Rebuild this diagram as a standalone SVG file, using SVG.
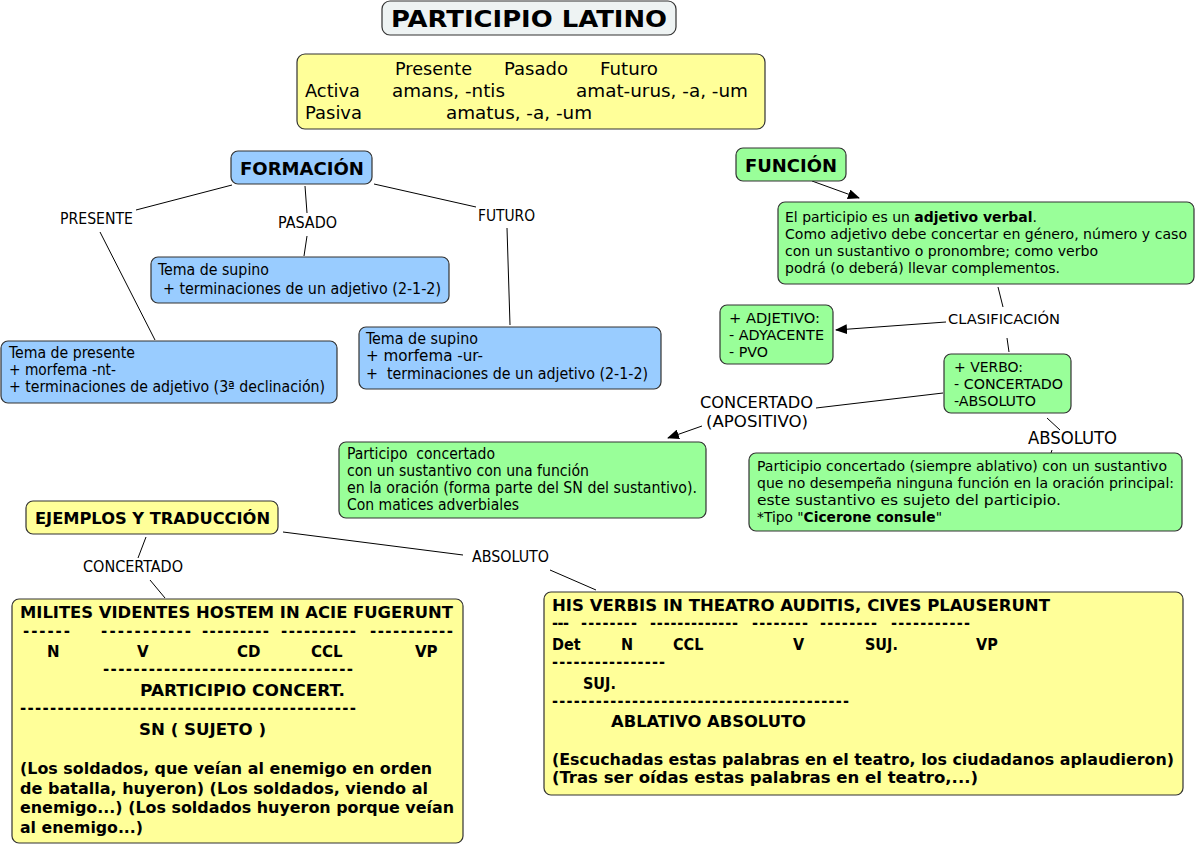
<svg xmlns="http://www.w3.org/2000/svg" width="1197" height="846" viewBox="0 0 1197 846">
<defs>
<marker id="arr" viewBox="0 0 12 10" refX="11" refY="5" markerWidth="12" markerHeight="10" markerUnits="userSpaceOnUse" orient="auto">
<path d="M0,0 L12,5 L0,10 Z" fill="#000"/>
</marker>
<style>
.box{stroke:#333;stroke-width:1.2}
.blue{fill:#99ccff}
.green{fill:#99ff99}
.yellow{fill:#ffff99}
.title{fill:#eef3f3}
text{white-space:pre}
.v{font-family:"DejaVu Sans",Verdana,sans-serif;fill:#000}
.t{font-family:"DejaVu Sans Condensed","DejaVu Sans",sans-serif;font-stretch:condensed;fill:#000}
.b{font-weight:bold}
.ln{stroke:#000;stroke-width:1;fill:none}
</style>
</defs>
<rect width="1197" height="846" fill="#fff"/>

<g id="connectors">
<line class="ln" x1="232" y1="185" x2="136" y2="210"/>
<line class="ln" x1="100" y1="232" x2="155" y2="340"/>
<line class="ln" x1="305" y1="186" x2="307" y2="213"/>
<line class="ln" x1="307" y1="236" x2="304" y2="256"/>
<line class="ln" x1="374" y1="184" x2="476" y2="207"/>
<line class="ln" x1="507" y1="228" x2="510" y2="325"/>
<line class="ln" x1="812" y1="181" x2="859" y2="198" marker-end="url(#arr)"/>
<line class="ln" x1="998" y1="287" x2="1003" y2="307"/>
<line class="ln" x1="946" y1="322" x2="836" y2="330" marker-end="url(#arr)"/>
<line class="ln" x1="1007" y1="338" x2="1009" y2="352"/>
<line class="ln" x1="943" y1="393" x2="816" y2="408"/>
<line class="ln" x1="702" y1="426" x2="668" y2="438" marker-end="url(#arr)"/>
<line class="ln" x1="1047" y1="418" x2="1060" y2="430"/>
<line class="ln" x1="1052" y1="450" x2="1051" y2="453"/>
<line class="ln" x1="146" y1="537" x2="138" y2="558"/>
<line class="ln" x1="150" y1="580" x2="165" y2="598"/>
<line class="ln" x1="283" y1="532" x2="463" y2="555"/>
<line class="ln" x1="550" y1="570" x2="596" y2="590"/>
<text class="t" x="60" y="224" font-size="15" textLength="73" lengthAdjust="spacingAndGlyphs">PRESENTE</text>
<text class="t" x="278" y="228" font-size="15" textLength="59" lengthAdjust="spacingAndGlyphs">PASADO</text>
<text class="t" x="478" y="221" font-size="15" textLength="57" lengthAdjust="spacingAndGlyphs">FUTURO</text>
<text class="v" x="948" y="324" font-size="13.5" textLength="112" lengthAdjust="spacingAndGlyphs">CLASIFICACIÓN</text>
<text class="v" x="700" y="408" font-size="15" textLength="113" lengthAdjust="spacingAndGlyphs">CONCERTADO</text>
<text class="v" x="706" y="427" font-size="15" textLength="102" lengthAdjust="spacingAndGlyphs">(APOSITIVO)</text>
<text class="t" x="1028" y="444" font-size="17" textLength="89" lengthAdjust="spacingAndGlyphs">ABSOLUTO</text>
<text class="t" x="83" y="572" font-size="15" textLength="100" lengthAdjust="spacingAndGlyphs">CONCERTADO</text>
<text class="t" x="472" y="562" font-size="15" textLength="77" lengthAdjust="spacingAndGlyphs">ABSOLUTO</text>
</g>

<g id="n-title">
<rect class="box title" x="382" y="1" width="294" height="34" rx="8"/>
<text class="v b" x="391" y="27" font-size="23" textLength="276" lengthAdjust="spacingAndGlyphs">PARTICIPIO LATINO</text>
</g>

<g id="n-tabla">
<rect class="box yellow" x="297" y="54" width="468" height="75" rx="8"/>
<g class="v" font-size="17">
<text x="395" y="75" textLength="77" lengthAdjust="spacingAndGlyphs">Presente</text>
<text x="504" y="75" textLength="64" lengthAdjust="spacingAndGlyphs">Pasado</text>
<text x="600" y="75" textLength="58" lengthAdjust="spacingAndGlyphs">Futuro</text>
<text x="305" y="97" textLength="55" lengthAdjust="spacingAndGlyphs">Activa</text>
<text x="392" y="97" textLength="113" lengthAdjust="spacingAndGlyphs">amans, -ntis</text>
<text x="576" y="97" textLength="172" lengthAdjust="spacingAndGlyphs">amat-urus, -a, -um</text>
<text x="305" y="119" textLength="57" lengthAdjust="spacingAndGlyphs">Pasiva</text>
<text x="446" y="119" textLength="146" lengthAdjust="spacingAndGlyphs">amatus, -a, -um</text>
</g>
</g>

<g id="n-formacion">
<rect class="box blue" x="231" y="151" width="141" height="33" rx="7"/>
<text class="v b" x="240" y="175" font-size="17" textLength="124" lengthAdjust="spacingAndGlyphs">FORMACIÓN</text>
</g>

<g id="n-pasado">
<rect class="box blue" x="151" y="257" width="298" height="46" rx="7"/>
<text class="t" x="158" y="275" font-size="15" textLength="111" lengthAdjust="spacingAndGlyphs">Tema de supino</text>
<text class="t" x="163" y="294" font-size="15" textLength="278" lengthAdjust="spacingAndGlyphs">+ terminaciones de un adjetivo (2-1-2)</text>
</g>

<g id="n-presente">
<rect class="box blue" x="1" y="341" width="336" height="62" rx="7"/>
<text class="t" x="9" y="358" font-size="15" textLength="126" lengthAdjust="spacingAndGlyphs">Tema de presente</text>
<text class="t" x="9" y="375" font-size="15" textLength="107" lengthAdjust="spacingAndGlyphs">+ morfema -nt-</text>
<text class="t" x="9" y="392" font-size="15" textLength="316" lengthAdjust="spacingAndGlyphs">+ terminaciones de adjetivo (3ª declinación)</text>
</g>

<g id="n-futuro">
<rect class="box blue" x="359" y="327" width="302" height="62" rx="7"/>
<text class="t" x="366" y="344" font-size="15" textLength="112" lengthAdjust="spacingAndGlyphs">Tema de supino</text>
<text class="t" x="366" y="361" font-size="15" textLength="117" lengthAdjust="spacingAndGlyphs">+ morfema -ur-</text>
<text class="t" x="366" y="379" font-size="15" textLength="282" lengthAdjust="spacingAndGlyphs">+  terminaciones de un adjetivo (2-1-2)</text>
</g>

<g id="n-funcion">
<rect class="box green" x="736" y="148" width="110" height="33" rx="7"/>
<text class="v b" x="745" y="172" font-size="17" textLength="92" lengthAdjust="spacingAndGlyphs">FUNCIÓN</text>
</g>

<g id="n-definicion">
<rect class="box green" x="778" y="202" width="416" height="82" rx="7"/>
<g class="v" font-size="13.5">
<text x="785" y="222" textLength="252" lengthAdjust="spacingAndGlyphs">El participio es un <tspan font-weight="bold">adjetivo verbal</tspan>.</text>
<text x="785" y="239" textLength="402" lengthAdjust="spacingAndGlyphs">Como adjetivo debe concertar en género, número y caso</text>
<text x="785" y="256" textLength="313" lengthAdjust="spacingAndGlyphs">con un sustantivo o pronombre; como verbo</text>
<text x="785" y="273" textLength="275" lengthAdjust="spacingAndGlyphs">podrá (o deberá) llevar complementos.</text>
</g>
</g>

<g id="n-adjetivo">
<rect class="box green" x="720" y="305" width="113" height="59" rx="7"/>
<g class="v" font-size="14">
<text x="729" y="323" textLength="91" lengthAdjust="spacingAndGlyphs">+ ADJETIVO:</text>
<text x="729" y="340" textLength="95" lengthAdjust="spacingAndGlyphs">- ADYACENTE</text>
<text x="729" y="357" textLength="39" lengthAdjust="spacingAndGlyphs">- PVO</text>
</g>
</g>

<g id="n-verbo">
<rect class="box green" x="944" y="354" width="127" height="59" rx="7"/>
<g class="v" font-size="14">
<text x="954" y="372" textLength="69" lengthAdjust="spacingAndGlyphs">+ VERBO:</text>
<text x="954" y="389" textLength="109" lengthAdjust="spacingAndGlyphs">- CONCERTADO</text>
<text x="954" y="406" textLength="82" lengthAdjust="spacingAndGlyphs">-ABSOLUTO</text>
</g>
</g>

<g id="n-concertado">
<rect class="box green" x="339" y="442" width="367" height="76" rx="7"/>
<g class="t" font-size="15">
<text x="347" y="459" textLength="148" lengthAdjust="spacingAndGlyphs">Participo  concertado</text>
<text x="347" y="476" textLength="242" lengthAdjust="spacingAndGlyphs">con un sustantivo con una función</text>
<text x="347" y="493" textLength="350" lengthAdjust="spacingAndGlyphs">en la oración (forma parte del SN del sustantivo).</text>
<text x="347" y="510" textLength="172" lengthAdjust="spacingAndGlyphs">Con matices adverbiales</text>
</g>
</g>

<g id="n-absoluto">
<rect class="box green" x="749" y="453" width="433" height="78" rx="7"/>
<g class="v" font-size="13.5">
<text x="757" y="471" textLength="410" lengthAdjust="spacingAndGlyphs">Participio concertado (siempre ablativo) con un sustantivo</text>
<text x="757" y="488" textLength="417" lengthAdjust="spacingAndGlyphs">que no desempeña ninguna función en la oración principal:</text>
<text x="757" y="505" textLength="304" lengthAdjust="spacingAndGlyphs">este sustantivo es sujeto del participio.</text>
<text x="757" y="522" textLength="185" lengthAdjust="spacingAndGlyphs">*Tipo "<tspan font-weight="bold">Cicerone consule</tspan>"</text>
</g>
</g>

<g id="n-ejemplos">
<rect class="box yellow" x="26" y="501" width="252" height="33" rx="7"/>
<text class="v b" x="35" y="524" font-size="16" textLength="235" lengthAdjust="spacingAndGlyphs">EJEMPLOS Y TRADUCCIÓN</text>
</g>

<g id="n-milites">
<rect class="box yellow" x="12" y="599" width="451" height="244" rx="7"/>
<g class="v b" font-size="15">
<text x="20" y="618" textLength="433" lengthAdjust="spacingAndGlyphs">MILITES VIDENTES HOSTEM IN ACIE FUGERUNT</text>
<text x="23" y="636" textLength="47" lengthAdjust="spacing">------</text>
<text x="101" y="636" textLength="90" lengthAdjust="spacing">-----------</text>
<text x="202" y="636" textLength="67" lengthAdjust="spacing">---------</text>
<text x="281" y="636" textLength="75" lengthAdjust="spacing">----------</text>
<text x="370" y="636" textLength="83" lengthAdjust="spacing">-----------</text>
<text x="47" y="657">N</text>
<text x="137" y="657">V</text>
<text x="237" y="657">CD</text>
<text x="311" y="657">CCL</text>
<text x="415" y="657">VP</text>
<text x="103" y="674" textLength="250" lengthAdjust="spacing">---------------------------------</text>
<text x="140" y="696" textLength="205" lengthAdjust="spacingAndGlyphs">PARTICIPIO CONCERT.</text>
<text x="20" y="713" textLength="336" lengthAdjust="spacing">---------------------------------------------</text>
<text x="139" y="735" textLength="127" lengthAdjust="spacingAndGlyphs">SN ( SUJETO )</text>
<text x="20" y="774" textLength="412" lengthAdjust="spacingAndGlyphs">(Los soldados, que veían al enemigo en orden</text>
<text x="20" y="794" textLength="408" lengthAdjust="spacingAndGlyphs">de batalla, huyeron) (Los soldados, viendo al</text>
<text x="20" y="813" textLength="434" lengthAdjust="spacingAndGlyphs">enemigo...) (Los soldados huyeron porque veían</text>
<text x="20" y="833" textLength="123" lengthAdjust="spacingAndGlyphs">al enemigo...)</text>
</g>
</g>

<g id="n-his">
<rect class="box yellow" x="544" y="592" width="639" height="203" rx="7"/>
<g class="t b" font-size="16">
<text x="552" y="611" textLength="498" lengthAdjust="spacingAndGlyphs">HIS VERBIS IN THEATRO AUDITIS, CIVES PLAUSERUNT</text>
<text x="552" y="628" textLength="17" lengthAdjust="spacing">---</text>
<text x="581" y="628" textLength="56" lengthAdjust="spacing">--------</text>
<text x="650" y="628" textLength="88" lengthAdjust="spacing">-------------</text>
<text x="752" y="628" textLength="56" lengthAdjust="spacing">--------</text>
<text x="820" y="628" textLength="57" lengthAdjust="spacing">--------</text>
<text x="891" y="628" textLength="79" lengthAdjust="spacing">-----------</text>
<text x="552" y="650">Det</text>
<text x="621" y="650">N</text>
<text x="673" y="650">CCL</text>
<text x="793" y="650">V</text>
<text x="865" y="650">SUJ.</text>
<text x="976" y="650">VP</text>
<text x="552" y="667" textLength="113" lengthAdjust="spacing">----------------</text>
<text x="583" y="689">SUJ.</text>
<text x="552" y="706" textLength="297" lengthAdjust="spacing">-----------------------------------------</text>
<text x="611" y="727" textLength="195" lengthAdjust="spacingAndGlyphs">ABLATIVO ABSOLUTO</text>
<text x="552" y="765" textLength="622" lengthAdjust="spacingAndGlyphs">(Escuchadas estas palabras en el teatro, los ciudadanos aplaudieron)</text>
<text x="552" y="783" textLength="426" lengthAdjust="spacingAndGlyphs">(Tras ser oídas estas palabras en el teatro,...)</text>
</g>
</g>
</svg>
